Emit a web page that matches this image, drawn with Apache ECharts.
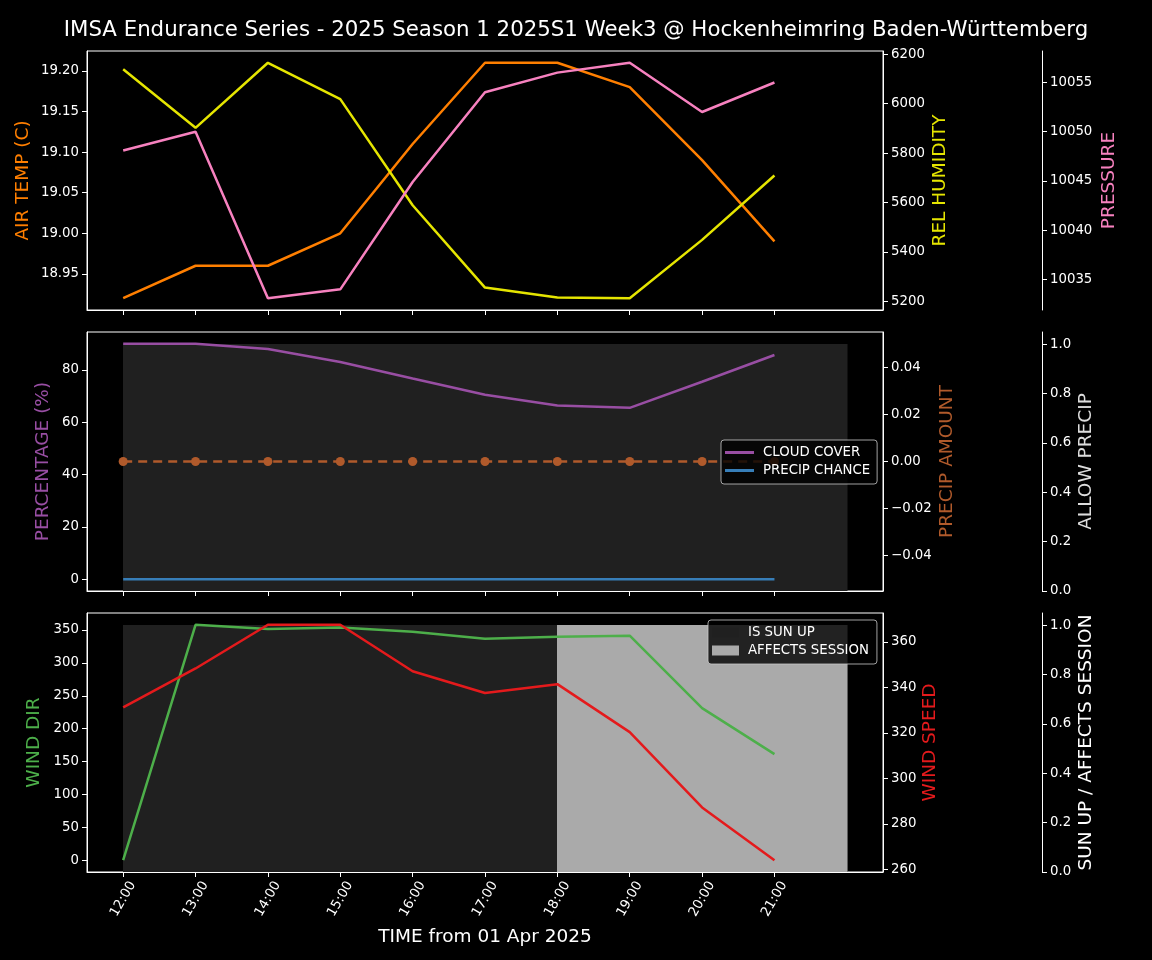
<!DOCTYPE html>
<html>
<head>
<meta charset="utf-8">
<script src="https://cdn.jsdelivr.net/npm/echarts@6/dist/echarts.min.js"></script>
<style>
html,body{margin:0;padding:0;background:#000;}
#chart{width:1152px;height:960px;}
</style>
</head>
<body>
<div id="chart"></div>
<script>
// ---- data ----
const timeLabels = ['12:00','13:00','14:00','15:00','16:00','17:00','18:00','19:00','20:00','21:00'];
const airTemp = [18.92, 18.96, 18.96, 19.00, 19.11, 19.21, 19.21, 19.18, 19.09, 18.99];
const relHumidity = [6139, 5902, 6165, 6018, 5589, 5256, 5216, 5213, 5449, 5709];
const pressure = [10048.1, 10050.0, 10033.1, 10034.0, 10044.9, 10054.0, 10056.0, 10057.0, 10052.0, 10055.0];
const cloudCover = [90, 90, 88, 83, 76.7, 70.5, 66.4, 65.5, 75.5, 85.7];
const precipChance = [0, 0, 0, 0, 0, 0, 0, 0, 0, 0];
const precipAmount = [0, 0, 0, 0, 0, 0, 0, 0, 0, 0];
const allowPrecip = [1, 1, 1, 1, 1, 1, 1, 1, 1, 1];
const windDir = [0, 358, 351.6, 354, 347.5, 336.8, 339.9, 341.4, 231.3, 161.3];
const windSpeed = [331.2, 348.3, 367.5, 367.5, 347.1, 337.5, 341.4, 320.3, 287.2, 264.0];
const sunUp = [1, 1, 1, 1, 1, 1, 1, 1, 1, 1];
const affectsSession = [0, 0, 0, 0, 0, 0, 1, 1, 1, 1];

// tick labels
const airTempTicks = [18.95, 19.00, 19.05, 19.10, 19.15, 19.20];
const humidityTicks = [5200, 5400, 5600, 5800, 6000, 6200];
const pressureTicks = [10035, 10040, 10045, 10050, 10055];
const percentTicks = [0, 20, 40, 60, 80];
const precipAmountTicks = [-0.04, -0.02, 0, 0.02, 0.04];
const unitTicks = [0, 0.2, 0.4, 0.6, 0.8, 1.0];
const windDirTicks = [0, 50, 100, 150, 200, 250, 300, 350];
const windSpeedTicks = [260, 280, 300, 320, 340, 360];

// ---- helpers ----
const FONT = 'DejaVu Sans';
const xIdx = timeLabels.map((_, i) => i);
const pairs = arr => arr.map((v, i) => [i, v]);
const padMin = v => v.min - 0.05 * (v.max - v.min);
const padMax = v => v.max + 0.05 * (v.max - v.min);
const fmtMinus = d => v => (v < 0 ? '\u2212' : '') + Math.abs(v).toFixed(d);

const C = {
  orange: '#ff7f00', yellow: '#e5e500', pink: '#f781bf',
  purple: '#984ea3', blue: '#377eb8', brown: '#b05a2b',
  green: '#4daf4a', red: '#e41a1c', dark: '#202020', light: '#aaaaaa'
};

const gridTops = [51, 332, 613];
const grids = gridTops.map(t => ({
  left: 87, top: t, width: 796, height: 259,
  show: true, borderColor: '#ffffff', borderWidth: 1, backgroundColor: 'transparent'
}));

const xAxes = [0, 1, 2].map(g => ({
  type: 'value', gridIndex: g, min: -0.5, max: 10.5,
  axisLine: {show: true, onZero: false, lineStyle: {color: '#fff'}},
  axisTick: {show: true, length: 5, lineStyle: {color: '#fff'}, customValues: xIdx},
  axisLabel: {
    show: g === 2, customValues: xIdx, rotate: 60, margin: 27, align: 'center', verticalAlign: 'middle',
    color: '#fff', fontFamily: FONT, fontSize: 13.3,
    formatter: v => timeLabels[Math.round(v)]
  },
  splitLine: {show: false},
  name: g === 2 ? 'TIME from 01 Apr 2025' : '',
  nameLocation: 'middle', nameGap: 56, nameMoveOverlap: false,
  nameTextStyle: {color: '#fff', fontFamily: FONT, fontSize: 18.5}
}));

function yAxis(opt) {
  return {
    type: 'value', gridIndex: opt.grid, position: opt.pos, offset: opt.offset || 0,
    min: opt.min, max: opt.max,
    axisLine: {show: true, onZero: false, lineStyle: {color: '#fff'}},
    axisTick: {show: true, length: 5, lineStyle: {color: '#fff'}, customValues: opt.ticks},
    axisLabel: {
      show: true, customValues: opt.ticks, margin: 8, color: '#fff',
      fontFamily: FONT, fontSize: 13.3, formatter: opt.fmt
    },
    splitLine: {show: false},
    name: opt.name, nameLocation: 'middle', nameGap: opt.gap, nameRotate: 90,
    nameMoveOverlap: false,
    nameTextStyle: {color: opt.color, fontFamily: FONT, fontSize: 18.5}
  };
}

const yAxes = [
  yAxis({grid: 0, pos: 'left', min: padMin, max: padMax, ticks: airTempTicks, fmt: fmtMinus(2), name: 'AIR TEMP (C)', gap: 54, color: C.orange}),
  yAxis({grid: 0, pos: 'right', min: padMin, max: padMax, ticks: humidityTicks, fmt: fmtMinus(0), name: 'REL HUMIDITY', gap: 47.5, color: C.yellow}),
  yAxis({grid: 0, pos: 'right', offset: 159, min: padMin, max: padMax, ticks: pressureTicks, fmt: fmtMinus(0), name: 'PRESSURE', gap: 57.5, color: C.pink}),
  yAxis({grid: 1, pos: 'left', min: padMin, max: padMax, ticks: percentTicks, fmt: fmtMinus(0), name: 'PERCENTAGE (%)', gap: 34, color: C.purple}),
  yAxis({grid: 1, pos: 'right', min: -0.055, max: 0.055, ticks: precipAmountTicks, fmt: fmtMinus(2), name: 'PRECIP AMOUNT', gap: 54.5, color: C.brown}),
  yAxis({grid: 1, pos: 'right', offset: 159, min: 0, max: 1.05, ticks: unitTicks, fmt: fmtMinus(1), name: 'ALLOW PRECIP', gap: 34.5, color: '#dddddd'}),
  yAxis({grid: 2, pos: 'left', min: padMin, max: padMax, ticks: windDirTicks, fmt: fmtMinus(0), name: 'WIND DIR', gap: 43, color: C.green}),
  yAxis({grid: 2, pos: 'right', min: padMin, max: padMax, ticks: windSpeedTicks, fmt: fmtMinus(0), name: 'WIND SPEED', gap: 38, color: C.red}),
  yAxis({grid: 2, pos: 'right', offset: 159, min: 0, max: 1.05, ticks: unitTicks, fmt: fmtMinus(1), name: 'SUN UP / AFFECTS SESSION', gap: 34.5, color: '#ffffff'})
];

function stepFill(params, api) {
  const i = api.value(0), v = api.value(1);
  if (!v) return null;
  const p0 = api.coord([i, 0]);
  const p1 = api.coord([i + 1, v]);
  const x0 = Math.round(p0[0]), x1 = Math.round(p1[0]);
  const yTop = Math.round(p1[1]), yBot = Math.round(p0[1]);
  return {
    type: 'rect',
    shape: {x: x0, y: yTop, width: x1 - x0 + 0.5, height: yBot - yTop},
    style: {fill: api.visual('color')}
  };
}

function line(name, data, xi, yi, color, extra) {
  return Object.assign({
    name, type: 'line', xAxisIndex: xi, yAxisIndex: yi, data: pairs(data),
    showSymbol: false, symbol: 'none', lineStyle: {color, width: 2.5}, itemStyle: {color},
    z: 3, animation: false
  }, extra || {});
}

function fill(name, data, xi, yi, color, z) {
  return {
    name, type: 'custom', xAxisIndex: xi, yAxisIndex: yi, data: pairs(data),
    renderItem: stepFill, itemStyle: {color}, encode: {x: 0, y: 1}, z: z, animation: false, silent: true
  };
}

const series = [
  line('AIR TEMP', airTemp, 0, 0, C.orange),
  line('REL HUMIDITY', relHumidity, 0, 1, C.yellow),
  line('PRESSURE', pressure, 0, 2, C.pink),

  fill('ALLOW PRECIP', allowPrecip, 1, 5, C.dark, 1),
  line('CLOUD COVER', cloudCover, 1, 3, C.purple),
  line('PRECIP CHANCE', precipChance, 1, 3, C.blue),
  line('PRECIP AMOUNT', precipAmount, 1, 4, C.brown, {
    showSymbol: true, symbol: 'circle', symbolSize: 9,
    lineStyle: {color: C.brown, width: 2.5, type: [9, 6]}
  }),

  fill('IS SUN UP', sunUp, 2, 8, C.dark, 1),
  fill('AFFECTS SESSION', affectsSession, 2, 8, C.light, 2),
  line('WIND DIR', windDir, 2, 6, C.green),
  line('WIND SPEED', windSpeed, 2, 7, C.red)
];

const legendBase = {
  orient: 'vertical', backgroundColor: 'rgba(0,0,0,0.8)',
  borderColor: 'rgba(200,200,200,0.8)', borderWidth: 1, borderRadius: 3,
  textStyle: {color: '#fff', fontFamily: FONT, fontSize: 13.3, padding: [0, 0, 0, 4]},
  selectedMode: false, itemGap: 5, z: 20
};

const option = {
  backgroundColor: '#000',
  animation: false,
  title: {
    text: 'IMSA Endurance Series - 2025 Season 1 2025S1 Week3 @ Hockenheimring Baden-Württemberg',
    left: 'center', top: 15,
    textStyle: {color: '#fff', fontFamily: FONT, fontSize: 21.3, fontWeight: 'normal'}
  },
  legend: [
    Object.assign({}, legendBase, {
      left: 721, top: 440, padding: [6, 7, 7, 4],
      itemWidth: 29, itemHeight: 3,
      data: [
        {name: 'CLOUD COVER', icon: 'rect', itemStyle: {color: C.purple}},
        {name: 'PRECIP CHANCE', icon: 'rect', itemStyle: {color: C.blue}}
      ]
    }),
    Object.assign({}, legendBase, {
      left: 708, top: 620, padding: [6, 8, 7, 4],
      itemWidth: 27, itemHeight: 10,
      data: [
        {name: 'IS SUN UP', icon: 'rect', itemStyle: {color: C.dark}},
        {name: 'AFFECTS SESSION', icon: 'rect', itemStyle: {color: C.light}}
      ]
    })
  ],
  grid: grids,
  xAxis: xAxes,
  yAxis: yAxes,
  series
};

const chart = echarts.init(document.getElementById('chart'), null, {renderer: 'canvas'});
chart.setOption(option);
</script>
</body>
</html>
